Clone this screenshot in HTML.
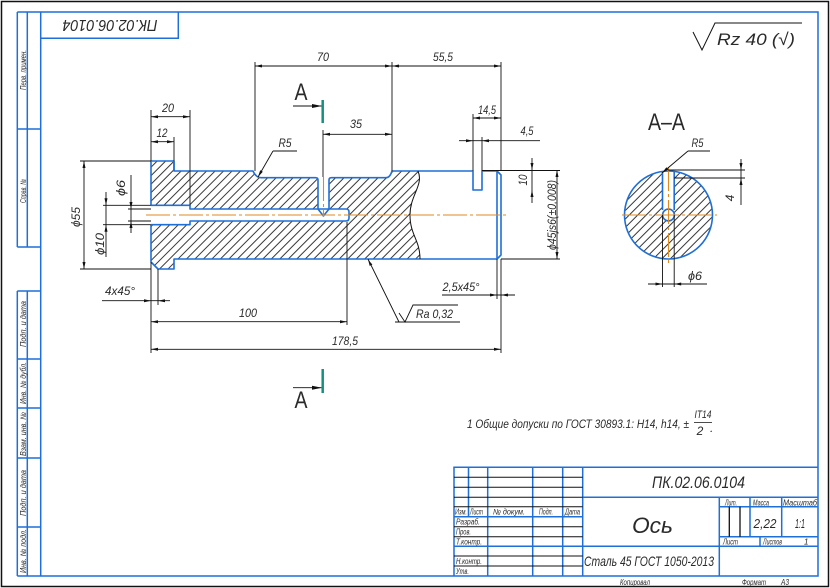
<!DOCTYPE html>
<html><head><meta charset="utf-8"><style>
html,body{margin:0;padding:0;background:#fff;}
svg{display:block;}
text{font-family:"Liberation Sans Narrow","Liberation Sans","DejaVu Sans",sans-serif;font-style:italic;fill:#2a2a2a;}
.u{font-style:normal;}
</style></head><body>
<svg width="830" height="588" viewBox="0 0 830 588" xmlns="http://www.w3.org/2000/svg">
<defs>
<pattern id="h" width="6" height="6" patternUnits="userSpaceOnUse" patternTransform="rotate(45)">
<line x1="3" y1="-1" x2="3" y2="7" stroke="#222" stroke-width="0.9"/>
</pattern>
</defs>
<rect width="830" height="588" fill="#fff"/>
<rect x="1.5" y="1.5" width="827" height="585" fill="none" stroke="#111" stroke-width="1.5"/>

<!-- frame -->
<g stroke="#1f6fd8" stroke-width="1.5" fill="none">
<path d="M17.3,12H818V576H17.3"/>
<line x1="40.7" y1="12" x2="40.7" y2="576"/>
<path d="M17.3,12V247 M27.3,12V247 M17.3,129H40.7 M17.3,247H40.7"/>
<path d="M17.3,291V576 M27.3,291V576 M17.3,291H40.7 M17.3,359H40.7 M17.3,408H40.7 M17.3,458H40.7 M17.3,527H40.7"/>
<path d="M40.7,38.3H178.3V12"/>
</g>
<g font-size="8">
<text transform="translate(26,70) rotate(-90)" text-anchor="middle" textLength="40" lengthAdjust="spacingAndGlyphs">Перв. примен.</text>
<text transform="translate(26,191) rotate(-90)" text-anchor="middle" textLength="24" lengthAdjust="spacingAndGlyphs">Справ. №</text>
<text transform="translate(26,324) rotate(-90)" text-anchor="middle" textLength="46" lengthAdjust="spacingAndGlyphs">Подп. и дата</text>
<text transform="translate(26,383) rotate(-90)" text-anchor="middle" textLength="42" lengthAdjust="spacingAndGlyphs">Инв. № дубл.</text>
<text transform="translate(26,434) rotate(-90)" text-anchor="middle" textLength="44" lengthAdjust="spacingAndGlyphs">Взам. инв. №</text>
<text transform="translate(26,493) rotate(-90)" text-anchor="middle" textLength="46" lengthAdjust="spacingAndGlyphs">Подп. и дата</text>
<text transform="translate(26,551) rotate(-90)" text-anchor="middle" textLength="44" lengthAdjust="spacingAndGlyphs">Инв. № подл.</text>
</g>
<text transform="translate(110,20) rotate(180)" text-anchor="middle" font-size="16" textLength="95" lengthAdjust="spacingAndGlyphs">ПК.02.06.0104</text>

<!-- roughness -->
<path d="M693,32L702,50L715,23H802" fill="none" stroke="#111" stroke-width="1"/>
<text x="717" y="45" font-size="17" textLength="78" lengthAdjust="spacingAndGlyphs">Rz 40 (√)</text>

<!-- main view hatch -->
<path d="M151,161L174,161L174,171L253,171Q256,177.7 261,177.7L386,177.7Q390,177.7 392,171L418,171C424,185 410,195 410,215C410,235 420,240 420,259L174,259L174,269L158,269L151,262Z" fill="url(#h)"/>
<g fill="#fff">
<rect x="151" y="205.3" width="39" height="19.4"/>
<rect x="190" y="209" width="159" height="12"/>
<rect x="318" y="177" width="11" height="33"/>
<polygon points="318,209 323.4,216 329,209"/>
</g>

<!-- main view outline -->
<g stroke="#1f6fd8" stroke-width="1.6" fill="none" stroke-linejoin="round">
<path d="M151,205.3V161H174V171H253Q256,177.7 261,177.7H315.6Q318,177.7 318,180V209L323.4,216L329,209V180Q329,177.7 331.4,177.7H386Q390,177.7 392,171H473V190H482V171H497L501,175V255L497,259H174V269H158L151,262V224.7"/>
<path d="M497,171V259"/>
<path d="M151,205.3H190V209H346Q349,209 349,212V218Q349,221 346,221H190V224.7H151"/>
<path d="M174,161V171"/>
</g>
<path d="M418,171C424,185 410,195 410,215C410,235 420,240 420,259" fill="none" stroke="#111" stroke-width="1"/>
<g stroke="#e08a1e" stroke-width="1.1" fill="none" stroke-dasharray="24 3 3 3">
<line x1="146" y1="215" x2="508" y2="215"/>
<line x1="323.5" y1="177" x2="323.5" y2="217"/>
</g>

<!-- section A-A -->
<circle cx="668.5" cy="215" r="44" fill="url(#h)"/>
<rect x="662.5" y="170" width="11.7" height="45" fill="#fff"/>
<circle cx="668.5" cy="215" r="5.9" fill="#fff"/>
<g stroke="#1f6fd8" stroke-width="1.6" fill="none">
<circle cx="668.5" cy="215" r="44"/>
<path d="M662.5,172V210 M674.2,172V210"/>
<circle cx="668.5" cy="215" r="5.9"/>
</g>
<g stroke="#e08a1e" stroke-width="1.1" fill="none" stroke-dasharray="24 3 3 3">
<line x1="622" y1="215" x2="717" y2="215"/>
<line x1="668.5" y1="167" x2="668.5" y2="263"/>
</g>

<!-- dimension lines -->
<g stroke="#111" stroke-width="0.9" fill="none">
<path d="M151,116.7H190 M151,141.7H174 M151,110V161 M190,110V205.3 M174,137V161"/>
<path d="M84,161V269 M80,161H151 M80,269H151"/>
<path d="M106,192V257 M103,205.3H151 M103,224.7H151"/>
<path d="M131,175V233 M128,209H151 M128,221H151"/>
<path d="M102,300.7H170 M158,269V305 M151,262V353"/>
<path d="M151,321.7H347 M347,222V325"/>
<path d="M151,349.3H501 M501,259V353"/>
<path d="M442,295H515 M497,259V299"/>
<path d="M255,66H501 M255,62V171 M392,62V171 M501,62V171"/>
<path d="M323,134.3H392 M323,130V177"/>
<path d="M473,118H501 M473,114V171"/>
<path d="M459,140.7H540 M482,137V171"/>
<path d="M482,170.5H560 M501,259H560"/>
<path d="M532,158V203 M557,170V259"/>
<path d="M741,159V205 M668,170H745 M674,178H745"/>
<path d="M648,284H707 M662.5,215V287 M674.2,215V287"/>
<path d="M273,151H297 M273,151L258,177"/>
<path d="M688,151H710 M688,151L662,173"/>
<path d="M368,259L399,322 M395,322H460 M399,313L405,322L413,305H458"/>
<path d="M293,106H322 M293,387.7H322"/>
</g>
<g fill="#111">
<polygon points="151,116.7 158,115.2 158,118.2"/><polygon points="190,116.7 183,115.2 183,118.2"/>
<polygon points="151,141.7 158,140.2 158,143.2"/><polygon points="174,141.7 167,140.2 167,143.2"/>
<polygon points="84,161 82.5,168 85.5,168"/><polygon points="84,269 82.5,262 85.5,262"/>
<polygon points="106,205.3 104.5,198.3 107.5,198.3"/><polygon points="106,224.7 104.5,231.7 107.5,231.7"/>
<polygon points="131,209 129.5,202 132.5,202"/><polygon points="131,221 129.5,228 132.5,228"/>
<polygon points="151,300.7 144,299.2 144,302.2"/><polygon points="158,300.7 165,299.2 165,302.2"/>
<polygon points="151,321.7 158,320.2 158,323.2"/><polygon points="347,321.7 340,320.2 340,323.2"/>
<polygon points="151,349.3 158,347.8 158,350.8"/><polygon points="501,349.3 494,347.8 494,350.8"/>
<polygon points="497,295 490,293.5 490,296.5"/><polygon points="501,295 508,293.5 508,296.5"/>
<polygon points="255,66 262,64.5 262,67.5"/><polygon points="392,66 385,64.5 385,67.5"/>
<polygon points="392,66 399,64.5 399,67.5"/><polygon points="501,66 494,64.5 494,67.5"/>
<polygon points="323,134.3 330,132.8 330,135.8"/><polygon points="392,134.3 385,132.8 385,135.8"/>
<polygon points="473,118 480,116.5 480,119.5"/><polygon points="501,118 494,116.5 494,119.5"/>
<polygon points="473,140.7 466,139.2 466,142.2"/><polygon points="482,140.7 489,139.2 489,142.2"/>
<polygon points="532,170 530.5,163 533.5,163"/><polygon points="532,190 530.5,197 533.5,197"/>
<polygon points="557,170 555.5,177 558.5,177"/><polygon points="557,259 555.5,252 558.5,252"/>
<polygon points="741,170 739.5,163 742.5,163"/><polygon points="741,178 739.5,185 742.5,185"/>
<polygon points="662.5,284 655.5,282.5 655.5,285.5"/><polygon points="674.2,284 681.2,282.5 681.2,285.5"/>
<polygon points="258,177 262.8,171.7 260.2,170.2"/>
<polygon points="662,173 668.3,169.6 666.4,167.3"/>
<polygon points="368,259.5 372.4,264.6 369.7,265.9"/>
<polygon points="322,106 312,104 312,108"/><polygon points="322,387.7 312,385.7 312,389.7"/>
</g>
<g stroke="#14907e" stroke-width="2.5">
<line x1="322.7" y1="100" x2="322.7" y2="123"/>
<line x1="322.7" y1="369" x2="322.7" y2="393"/>
</g>

<!-- dimension texts -->
<g font-size="12">
<text x="168" y="112" text-anchor="middle" textLength="12" lengthAdjust="spacingAndGlyphs">20</text>
<text x="162" y="137" text-anchor="middle" textLength="11" lengthAdjust="spacingAndGlyphs">12</text>
<text x="323" y="61" text-anchor="middle" textLength="12" lengthAdjust="spacingAndGlyphs">70</text>
<text x="443" y="61" text-anchor="middle" textLength="20" lengthAdjust="spacingAndGlyphs">55,5</text>
<text x="356" y="128" text-anchor="middle" textLength="12" lengthAdjust="spacingAndGlyphs">35</text>
<text x="487" y="114" text-anchor="middle" textLength="18" lengthAdjust="spacingAndGlyphs">14,5</text>
<text x="527" y="135" text-anchor="middle" textLength="13" lengthAdjust="spacingAndGlyphs">4,5</text>
<text transform="translate(527,180) rotate(-90)" text-anchor="middle" textLength="11" lengthAdjust="spacingAndGlyphs">10</text>
<text transform="translate(556,215) rotate(-90)" text-anchor="middle" textLength="70" lengthAdjust="spacingAndGlyphs">ϕ45js6(±0,008)</text>
<text transform="translate(80,217) rotate(-90)" text-anchor="middle" textLength="20" lengthAdjust="spacingAndGlyphs">ϕ55</text>
<text transform="translate(104,244) rotate(-90)" text-anchor="middle" textLength="22" lengthAdjust="spacingAndGlyphs">ϕ10</text>
<text transform="translate(125,188) rotate(-90)" text-anchor="middle" textLength="16" lengthAdjust="spacingAndGlyphs">ϕ6</text>
<text x="120" y="295" text-anchor="middle" textLength="30" lengthAdjust="spacingAndGlyphs">4x45°</text>
<text x="248" y="317" text-anchor="middle" textLength="18" lengthAdjust="spacingAndGlyphs">100</text>
<text x="345" y="345" text-anchor="middle" textLength="26" lengthAdjust="spacingAndGlyphs">178,5</text>
<text x="461" y="291" text-anchor="middle" textLength="37" lengthAdjust="spacingAndGlyphs">2,5x45°</text>
<text x="416" y="318" textLength="37" lengthAdjust="spacingAndGlyphs">Ra 0,32</text>
<text x="285" y="147" text-anchor="middle" textLength="13" lengthAdjust="spacingAndGlyphs">R5</text>
<text x="697.5" y="147" text-anchor="middle" textLength="12" lengthAdjust="spacingAndGlyphs">R5</text>
<text transform="translate(734,198) rotate(-90)" text-anchor="middle">4</text>
<text x="695" y="280" text-anchor="middle" textLength="14" lengthAdjust="spacingAndGlyphs">ϕ6</text>
</g>
<g font-size="24" class="u">
<text class="u" x="301" y="100" text-anchor="middle" textLength="13" lengthAdjust="spacingAndGlyphs">A</text>
<text class="u" x="301" y="408" text-anchor="middle" textLength="13" lengthAdjust="spacingAndGlyphs">A</text>
<text class="u" x="666.5" y="130" text-anchor="middle" textLength="37" lengthAdjust="spacingAndGlyphs">A–A</text>
</g>

<!-- note -->
<text x="467" y="428" font-size="12" textLength="222" lengthAdjust="spacingAndGlyphs">1 Общие допуски по ГОСТ 30893.1: H14, h14, ±</text>
<text x="703" y="418" font-size="11" text-anchor="middle" textLength="17" lengthAdjust="spacingAndGlyphs">IT14</text>
<line x1="694" y1="422.5" x2="712" y2="422.5" stroke="#111" stroke-width="0.8"/>
<text x="700" y="435" font-size="12" text-anchor="middle">2</text>
<text x="710" y="432" font-size="12">.</text>

<!-- title block -->
<g stroke="#1f6fd8" stroke-width="1.5" fill="none">
<path d="M454,576V467.3H818"/>
<path d="M582.7,467.3V576 M582.7,497.3H818 M582.7,546.3H818 M719.3,497.3V576"/>
<path d="M454,516.7H582.7 M454,546.3H582.7"/>
<path d="M487.7,467.3V576 M532.7,467.3V576 M562.7,467.3V576 M468.5,467.3V516.7"/>
<path d="M750,497.3V536.7 M781.7,497.3V536.7 M719.3,506.7H818 M719.3,536.7H818 M760,536.7V546.3"/>
</g>
<g stroke="#111" stroke-width="1" fill="none">
<path d="M454,477.3H582.7 M454,487.3H582.7 M454,497.3H582.7 M454,506.7H582.7 M454,526.7H582.7 M454,536.7H582.7 M454,556H582.7 M454,566H582.7"/>
<path d="M729.3,506.7V536.7 M740,506.7V536.7" stroke-width="1.3"/>
</g>
<g font-size="8">
<text x="455" y="514.3" textLength="12" lengthAdjust="spacingAndGlyphs">Изм.</text>
<text x="470" y="514.3" textLength="13" lengthAdjust="spacingAndGlyphs">Лист</text>
<text x="493" y="514.3" textLength="32" lengthAdjust="spacingAndGlyphs">№ докум.</text>
<text x="539" y="514.3" textLength="14" lengthAdjust="spacingAndGlyphs">Подп.</text>
<text x="565" y="514.3" textLength="15" lengthAdjust="spacingAndGlyphs">Дата</text>
<text x="456" y="524.5" textLength="24" lengthAdjust="spacingAndGlyphs">Разраб.</text>
<text x="456" y="534.5" textLength="15" lengthAdjust="spacingAndGlyphs">Пров.</text>
<text x="456" y="544.5" textLength="26" lengthAdjust="spacingAndGlyphs">Т.контр.</text>
<text x="456" y="564" textLength="26" lengthAdjust="spacingAndGlyphs">Н.контр.</text>
<text x="456" y="574" textLength="13" lengthAdjust="spacingAndGlyphs">Утв.</text>
<text x="725" y="505.5" textLength="12" lengthAdjust="spacingAndGlyphs">Лит.</text>
<text x="753" y="505.5" textLength="16" lengthAdjust="spacingAndGlyphs">Масса</text>
<text x="783" y="505.5" textLength="34" lengthAdjust="spacingAndGlyphs">Масштаб</text>
<text x="723" y="544.5" textLength="15" lengthAdjust="spacingAndGlyphs">Лист</text>
<text x="763" y="544.5" textLength="19" lengthAdjust="spacingAndGlyphs">Листов</text>
<text x="804" y="544.5">1</text>
<text x="620" y="585" textLength="30" lengthAdjust="spacingAndGlyphs">Копировал</text>
<text x="742" y="585" textLength="24" lengthAdjust="spacingAndGlyphs">Формат</text>
<text x="781" y="585" textLength="8" lengthAdjust="spacingAndGlyphs">А3</text>
</g>
<text x="652" y="488" font-size="17" textLength="93" lengthAdjust="spacingAndGlyphs">ПК.02.06.0104</text>
<text x="632" y="533" font-size="22" textLength="41" lengthAdjust="spacingAndGlyphs">Ось</text>
<text x="584" y="566" font-size="14" textLength="130" lengthAdjust="spacingAndGlyphs">Сталь 45 ГОСТ 1050-2013</text>
<text x="765" y="528" font-size="13" text-anchor="middle" textLength="23" lengthAdjust="spacingAndGlyphs">2,22</text>
<text x="800" y="528" font-size="13" text-anchor="middle" textLength="10" lengthAdjust="spacingAndGlyphs">1:1</text>
</svg>
</body></html>
